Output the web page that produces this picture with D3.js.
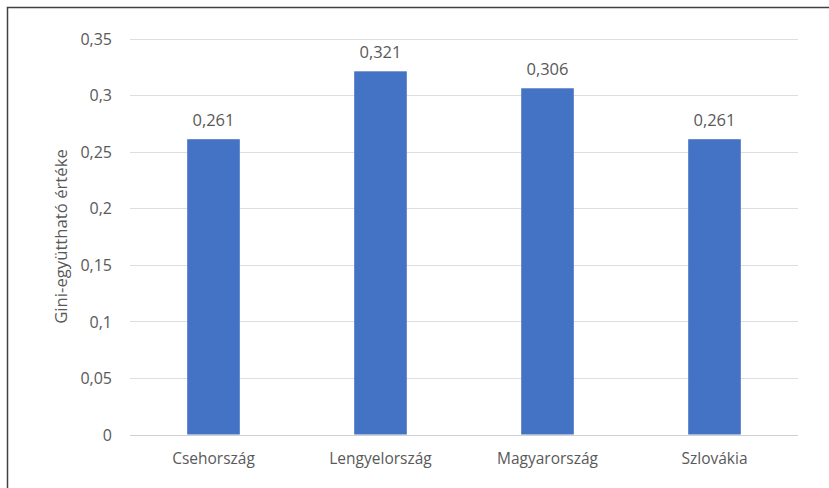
<!DOCTYPE html>
<html><head><meta charset="utf-8">
<script src="https://cdn.jsdelivr.net/npm/d3@7"></script>
<style>body{margin:0;background:#fff}svg{display:block}text{font-family:"Open Sans",sans-serif;fill:#595959}</style>
</head><body><svg id="c" width="829" height="488"></svg>
<script>
const categories = ["Csehország","Lengyelország","Magyarország","Szlovákia"];
const values = [0.261,0.321,0.306,0.261];
const tickValues = [0,0.05,0.1,0.15,0.2,0.25,0.3,0.35];
const yTitle = "Gini-együttható értéke";
const fmt = d => String(+d.toFixed(3)).replace(".", ",");

const svg = d3.select("#c");
svg.append("rect").attr("x",7.5).attr("y",7.5).attr("width",900).attr("height",600)
  .attr("fill","none").attr("stroke","#404040").attr("stroke-width",1.5);

const m = {l:130, r:798, t:38.5, b:434.5};
const x = d3.scaleBand().domain(categories).range([m.l,m.r]).padding(0);
const y = d3.scaleLinear().domain([0,0.35]).range([m.b,m.t]);
const barW = x.bandwidth()*0.315;

const g = svg.append("g");
g.selectAll("line.grid").data(tickValues).join("line")
  .attr("x1",m.l).attr("x2",m.r).attr("y1",d=>Math.round(y(d))+0.5).attr("y2",d=>Math.round(y(d))+0.5)
  .attr("stroke",d=>d===0?"#d0d0d0":"#dedede").attr("stroke-width",1);

const yAxis = d3.axisLeft(y).tickValues(tickValues).tickFormat(fmt).tickSize(0).tickPadding(0);
const ya = svg.append("g").attr("transform",`translate(${m.l-18},0)`).call(yAxis);
ya.select(".domain").remove();
ya.selectAll("text").attr("font-size",16).attr("fill","#595959").attr("font-family","Open Sans, sans-serif").attr("dy","0.36em");

g.selectAll("rect.bar").data(values).join("rect")
  .attr("x",(d,i)=>x(categories[i])+x.bandwidth()/2-barW/2)
  .attr("width",barW)
  .attr("y",d=>y(d)).attr("height",d=>y(0)-y(d))
  .attr("fill","#4472c4");

g.selectAll("text.val").data(values).join("text")
  .attr("x",(d,i)=>x(categories[i])+x.bandwidth()/2)
  .attr("y",d=>y(d)-13)
  .attr("text-anchor","middle").attr("font-size",16.5).text(fmt);

const xAxis = d3.axisBottom(x).tickSize(0).tickPadding(0);
const xa = svg.append("g").attr("transform",`translate(0,${m.b})`).call(xAxis);
xa.select(".domain").remove();
xa.selectAll("text").attr("font-size",15.5).attr("fill","#595959").attr("font-family","Open Sans, sans-serif").attr("dy",null).attr("y",29);

svg.append("text").attr("transform",`translate(67,${(m.t+m.b)/2}) rotate(-90)`)
  .attr("text-anchor","middle").attr("font-size",16.7).text(yTitle);
</script></body></html>
